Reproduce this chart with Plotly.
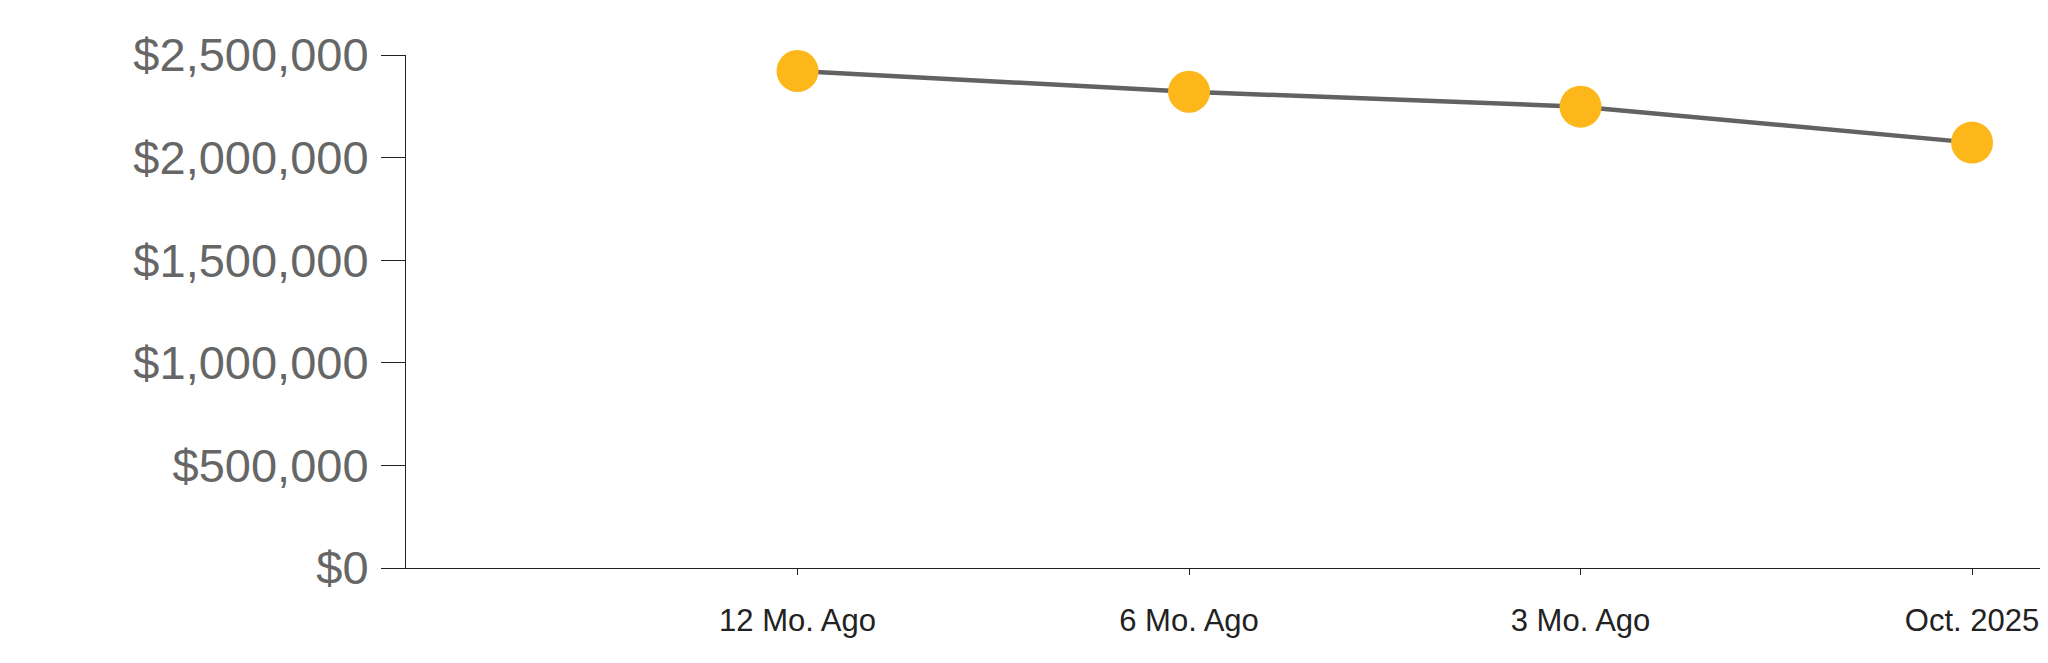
import plotly.graph_objects as go

categories = ["12 Mo. Ago", "6 Mo. Ago", "3 Mo. Ago", "Oct. 2025"]
values = [2422000, 2321000, 2248000, 2073000]
y_ticks = [0, 500000, 1000000, 1500000, 2000000, 2500000]
y_tick_text = ["$" + f"{v:,}" for v in y_ticks]

fig = go.Figure()
fig.add_trace(go.Scatter(
    x=categories, y=values, mode="lines+markers",
    line=dict(color="#626262", width=4.5),
    marker=dict(color="#FDB71A", size=42, line=dict(width=0)),
    cliponaxis=False, showlegend=False,
))

fig.update_layout(
    width=2040, height=655,
    margin=dict(l=398, r=0, t=47, b=95),
    paper_bgcolor="white", plot_bgcolor="white",
    font=dict(family="Liberation Sans, Arial, sans-serif"),
    xaxis=dict(
        type="category", range=[-1, 3.194],
        showgrid=False, zeroline=False,
        showline=True, linecolor="#222222", linewidth=1,
        ticks="outside", ticklen=6, tickcolor="#222222",
        tickfont=dict(size=31, color="#222222"),
        ticklabelstandoff=19,
    ),
    yaxis=dict(
        range=[0, 2500000], tickvals=y_ticks, ticktext=y_tick_text,
        showgrid=False, zeroline=False,
        showline=True, linecolor="#222222", linewidth=1,
        ticks="outside", ticklen=24, tickcolor="#222222",
        tickfont=dict(size=47, color="#666666"),
        ticklabelstandoff=3,
    ),
)

fig.write_html("out.html")
